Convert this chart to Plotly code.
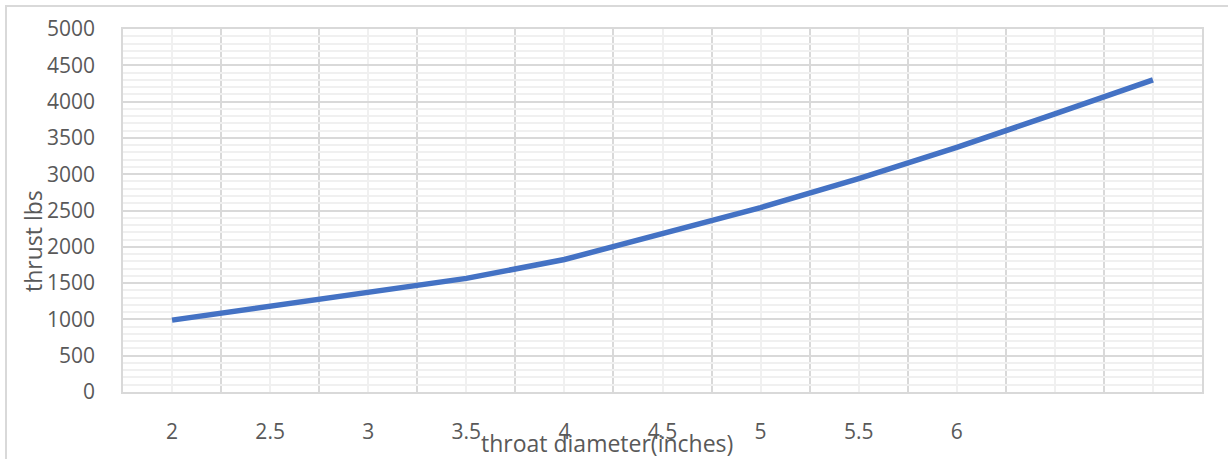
import plotly.graph_objects as go

# Thrust versus nozzle throat diameter
throat_labels = ["2", "2.5", "3", "3.5", "4", "4.5", "5", "5.5", "6", "", ""]
thrust_lbs = [990, 1180, 1360, 1565, 1825, 2180, 2540, 2940, 3370, 3830, 4300]
y_ticks = [0, 500, 1000, 1500, 2000, 2500, 3000, 3500, 4000, 4500, 5000]

positions = list(range(len(throat_labels)))

FONT = "Open Sans, Liberation Sans, sans-serif"
TXT = "#595959"
GRID_MAJOR = "#d9d9d9"
GRID_MINOR = "#f0f0f0"

fig = go.Figure()
fig.add_trace(go.Scatter(
    x=positions,
    y=thrust_lbs,
    mode="lines",
    line=dict(color="#4472C4", width=5.5),
    hoverinfo="y",
    showlegend=False,
))

W, H = 1228, 459
L, R, T, B = 123, 26, 29, 67
pw, ph = W - L - R, H - T - B

fig.update_layout(
    width=W,
    height=H,
    margin=dict(l=L, r=R, t=T, b=B, autoexpand=False),
    paper_bgcolor="white",
    plot_bgcolor="white",
    font=dict(family=FONT, size=21, color=TXT),
    xaxis=dict(
        range=[-0.5, len(throat_labels) - 0.5],
        tickmode="array",
        tickvals=positions,
        ticktext=throat_labels,
        showgrid=True,
        gridcolor=GRID_MINOR,
        gridwidth=1.5,
        minor=dict(showgrid=True, tick0=-0.5, dtick=1,
                   gridcolor=GRID_MAJOR, gridwidth=1.5),
        showline=True,
        linecolor=GRID_MAJOR,
        linewidth=1.5,
        mirror=True,
        ticks="",
        ticklabelstandoff=20,
        automargin=False,
        zeroline=False,
        tickfont=dict(family=FONT, size=21, color=TXT),
    ),
    yaxis=dict(
        range=[0, 5000],
        tickmode="array",
        tickvals=y_ticks,
        showgrid=True,
        gridcolor=GRID_MAJOR,
        gridwidth=1.5,
        minor=dict(showgrid=True, tick0=0, dtick=100,
                   gridcolor=GRID_MINOR, gridwidth=1.5),
        showline=True,
        linecolor=GRID_MAJOR,
        linewidth=1.5,
        mirror=True,
        ticks="",
        ticklabelstandoff=22,
        automargin=False,
        zeroline=False,
        tickfont=dict(family=FONT, size=21, color=TXT),
    ),
    annotations=[
        dict(
            text="throat diameter(inches)",
            xref="paper", yref="paper",
            x=(607 - L) / pw, y=-(443 - (T + ph)) / ph,
            xanchor="center", yanchor="middle",
            showarrow=False,
            font=dict(family=FONT, size=23, color=TXT),
        ),
        dict(
            text="thrust lbs",
            xref="paper", yref="paper",
            x=(33 - L) / pw, y=1 - (241 - T) / ph,
            xanchor="center", yanchor="middle",
            textangle=-90,
            showarrow=False,
            font=dict(family=FONT, size=23, color=TXT),
        ),
    ],
    shapes=[
        # chart frame (left and top edges fall inside the page)
        dict(
            type="rect", xref="paper", yref="paper",
            x0=(6 - L) / pw, x1=(W + 20 - L) / pw,
            y0=-(H + 20 - (T + ph)) / ph, y1=1 + (T - 6) / ph,
            line=dict(color=GRID_MAJOR, width=2),
            fillcolor="rgba(0,0,0,0)",
            layer="below",
        ),
    ],
)

fig.write_html("out.html")
